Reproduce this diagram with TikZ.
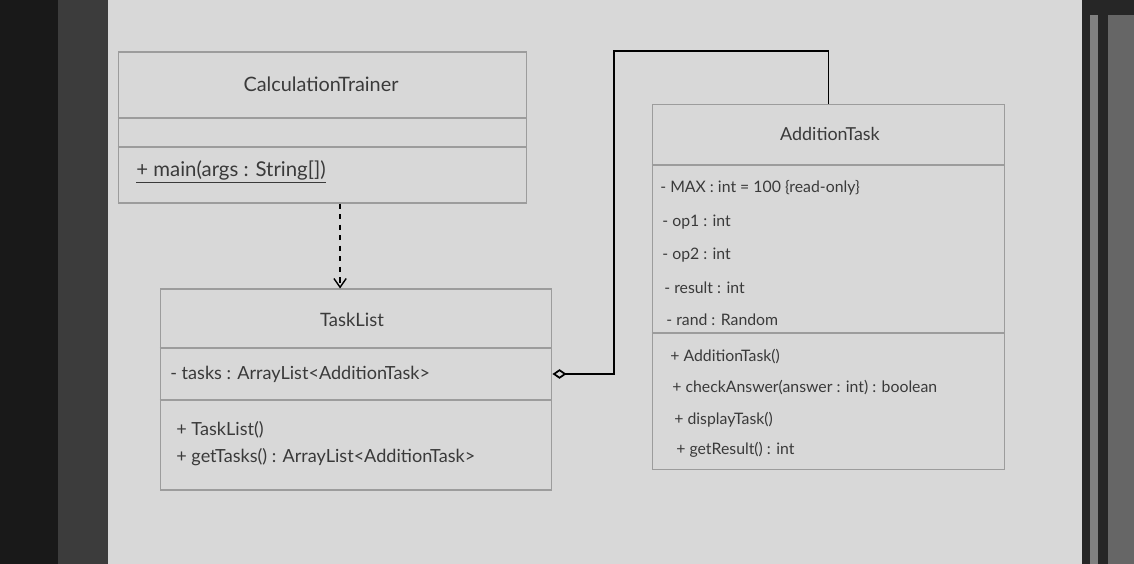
\documentclass[tikz,border=0pt]{standalone}
\usepackage{fontspec}
\setmainfont{Lato}
\usetikzlibrary{arrows.meta}
\definecolor{boardgray}{HTML}{D8D8D8}
\definecolor{framegray}{HTML}{3C3C3C}
\definecolor{boxline}{HTML}{9C9C9C}
\definecolor{inkgray}{HTML}{3A3A3A}
\tikzset{
  classbox/.style={draw=boxline, line width=0.6pt, inner sep=0pt},
  divider/.style={draw=boxline, line width=0.6pt},
  classname/.style={text=inkgray, font=\fontsize{10.5}{12}\selectfont},
  member/.style={text=inkgray, anchor=west, inner sep=0pt, font=\fontsize{9}{11}\selectfont},
  bigmember/.style={member, font=\fontsize{10.3}{12}\selectfont},
  dep/.style={black, line width=0.8pt, dashed, -{Straight Barb[length=5pt,width=7pt]}},
  aggr/.style={black, line width=1pt, {Diamond[open,length=8pt,width=5.5pt]}-}
}
\begin{document}
\begin{tikzpicture}[x=0.02cm, y=-0.02cm]
      \useasboundingbox (0,0) rectangle (1134,564);
      % board and frame
      \fill[boardgray] (0,0) rectangle (1134,564);
      \fill[black!90] (0,0) rectangle (58,564);
      \fill[framegray] (58,0) rectangle (108,564);
      \fill[black!85] (1082,0) rectangle (1134,564);
      \fill[gray] (1090,15) rectangle (1098,564);
      \fill[black!60] (1108,15) rectangle (1134,564);
      % classes
      \node[classbox, minimum width=8.18cm, minimum height=3.02cm] (trainer) at (322.5,127.5) {};
      \node[classbox, minimum width=7.84cm, minimum height=4.02cm] (tasklist) at (356,389.5) {};
      \node[classbox, minimum width=7.06cm, minimum height=7.32cm] (addtask) at (828.5,287) {};
      \draw[divider] (trainer.west |- 0,118) -- (trainer.east |- 0,118);
      \draw[divider] (trainer.west |- 0,147) -- (trainer.east |- 0,147);
      \draw[divider] (tasklist.west |- 0,348) -- (tasklist.east |- 0,348);
      \draw[divider] (tasklist.west |- 0,400) -- (tasklist.east |- 0,400);
      \draw[divider] (addtask.west |- 0,165) -- (addtask.east |- 0,165);
      \draw[divider] (addtask.west |- 0,333) -- (addtask.east |- 0,333);
      % names
      \node[classname, font=\fontsize{11.3}{13}\selectfont] (trainername) at (321,84) {CalculationTrainer};
      \node[classname] (tasklistname) at (352,320) {TaskList};
      \node[classname, font=\fontsize{10.2}{12}\selectfont] (addtaskname) at (830,134) {AdditionTask};
      % members
      \node[member, font=\fontsize{11.6}{13}\selectfont] (main) at (136,172) {\underline{+ main(args : String[])}};
      \node[bigmember] (tasks) at (170,374) {- tasks : ArrayList<AdditionTask>};
      \node[bigmember] (tasklistop) at (176,430) {+ TaskList()};
      \node[bigmember] (gettasks) at (176,457) {+ getTasks() : ArrayList<AdditionTask>};
      \node[member] (max) at (660,188) {- MAX : int = 100 \{read-only\}};
      \node[member] (opa) at (662,222) {- op1 : int};
      \node[member] (opb) at (662,255) {- op2 : int};
      \node[member] (result) at (664,288) {- result : int};
      \node[member] (rand) at (666,320) {- rand : Random};
      \node[member] (addtaskop) at (670,357) {+ AdditionTask()};
      \node[member] (check) at (672,388) {+ checkAnswer(answer : int) : boolean};
      \node[member] (display) at (674,420) {+ displayTask()};
      \node[member] (getresult) at (676,450) {+ getResult() : int};
      % relations
      \coordinate (bend) at (614,51);
      \draw[dep] ([xshift=10pt]trainer.south) -- ([xshift=10pt]trainer.south |- tasklist.north);
      \draw[aggr] (tasklist.east |- tasks) -| (bend) -| (addtask.north);
    \end{tikzpicture}
\end{document}
